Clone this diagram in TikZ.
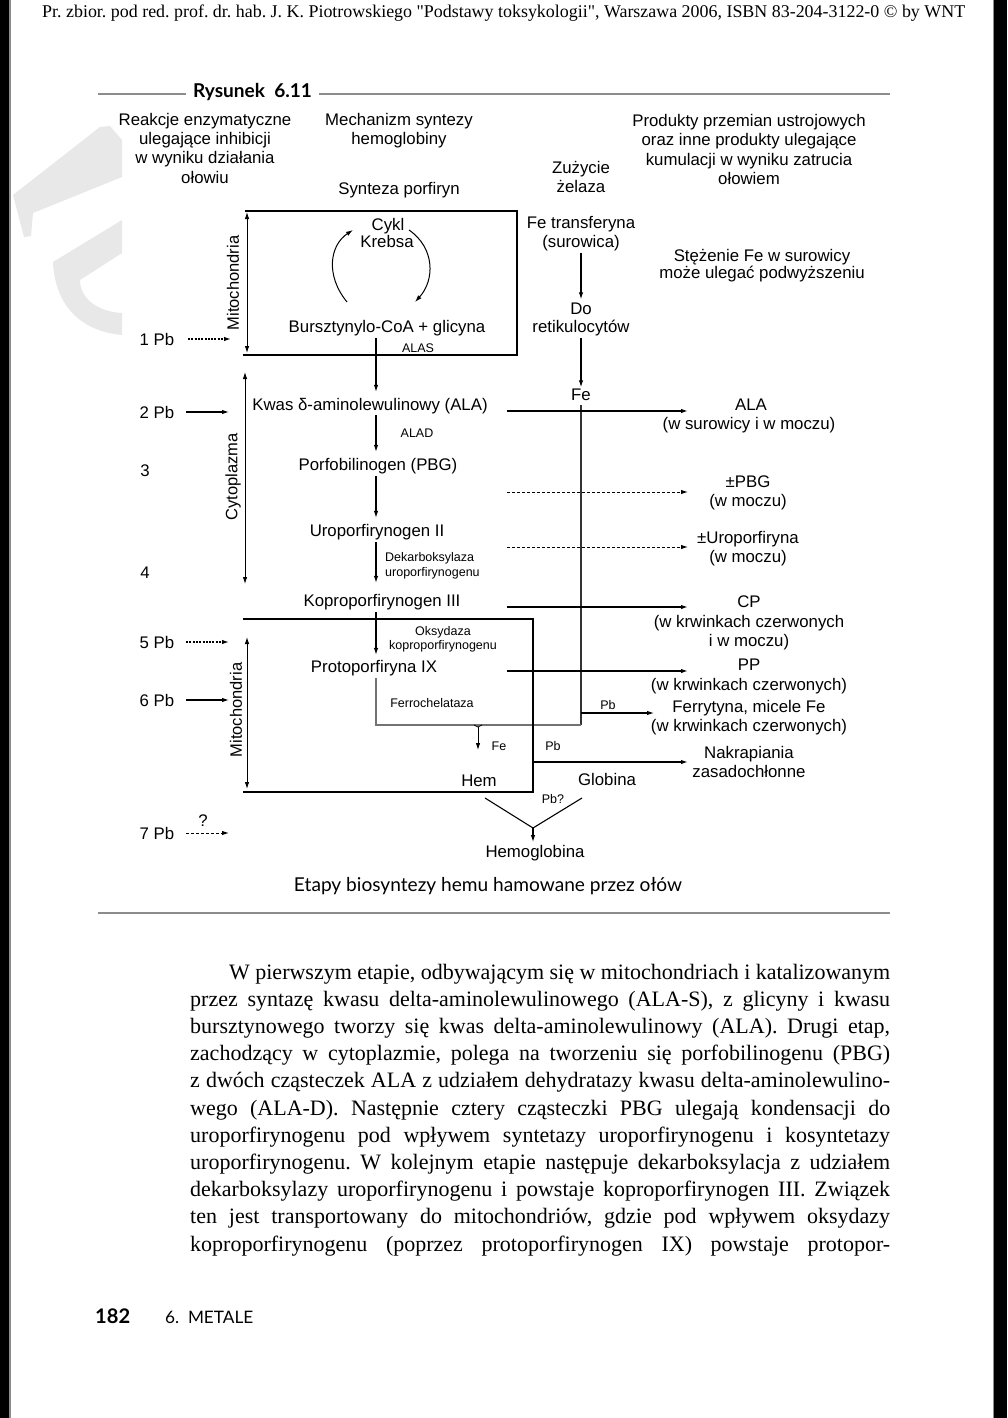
\documentclass[tikz,border=0pt]{standalone}
\usepackage{graphicx}
\usepackage{fontspec}
\setmainfont{Liberation Sans}
\newfontfamily\bodyfnt{Liberation Serif}
\newfontfamily\optfnt{Lato}
\usetikzlibrary{arrows.meta}
\frenchspacing
\begin{document}
\begin{tikzpicture}[x=1pt,y=-1pt,
  >={Latex[length=7pt,width=4.5pt]},
  m/.style={anchor=base,font=\fontsize{16.8}{19}\selectfont,inner sep=1.5pt,text height=12pt,text depth=3.5pt},
  sm/.style={anchor=base,font=\fontsize{12.5}{15}\selectfont,inner sep=1pt},
  rot/.style={anchor=center,rotate=90,font=\fontsize{16.5}{19}\selectfont,inner sep=1pt},
  arr/.style={->,line width=1.1pt},
  thickarr/.style={->,line width=2pt},
  dasharr/.style={->,line width=1pt,dash pattern=on 3pt off 2pt},
  dotarr/.style={->,line width=1.3pt,dash pattern=on 2pt off 1.3pt},
  dblarr/.style={<->,line width=0.9pt},
  boxl/.style={line width=1.4pt},
  grayl/.style={line width=1.1pt,black!55},
  rulel/.style={line width=2.6pt,black!45},
  body/.style={anchor=base west,inner sep=0pt,font=\bodyfnt\fontsize{22}{27}\selectfont}
]
\useasboundingbox (0,0) rectangle (1007,1418);
\fill[white] (0,0) rectangle (1007,1418);
% watermark
\fill[black!9] (13,195) -- (100,127) -- (110,126) -- (122,140) -- (122,177) -- (33,213) -- (31,236) -- (24,237) -- cycle;
\fill[black!9] (53,262) -- (122,220) -- (122,253) -- (80,280) .. controls (80,300) and (100,312) .. (122,313) -- (122,335) .. controls (80,331) and (55,305) .. (53,262) -- cycle;
% scan borders
\fill[black] (0,0) rectangle (9,1418);
\fill[black!45] (9,0) rectangle (10.5,1418);
\fill[black] (994,0) rectangle (1007,1418);
\fill[black!45] (992.5,0) rectangle (994,1418);

% header line
\node[anchor=base west,inner sep=0pt] (hdr) at (42,18) {\resizebox{923pt}{!}{\bodyfnt\fontsize{17}{20}\selectfont Pr. zbior. pod red. prof. dr. hab. J. K. Piotrowskiego "Podstawy toksykologii", Warszawa 2006, ISBN 83-204-3122-0 © by WNT}};

% figure title and rules
\draw[rulel] (98,94) -- (186,94);
\draw[rulel] (319,94) -- (890,94);
\node[anchor=base,inner sep=0pt] (rys) at (252.5,98) {\resizebox{119pt}{!}{\optfnt\bfseries\fontsize{19}{22}\selectfont Rysunek\ \ 6.11}};
\draw[rulel] (98,913) -- (890,913);

% column headers
\node[m] (r1a) at (205,126) {Reakcje enzymatyczne};
\node[m] (r1b) at (205,145) {ulegające inhibicji};
\node[m] (r1c) at (205,164) {w wyniku działania};
\node[m] (r1d) at (205,183) {ołowiu};
\node[m] (m1a) at (399,126) {Mechanizm syntezy};
\node[m] (m1b) at (399,145) {hemoglobiny};
\node[m] (z1a) at (581,173) {Zużycie};
\node[m] (z1b) at (581,192) {żelaza};
\node[m] (p1a) at (749,127) {Produkty przemian ustrojowych};
\node[m] (p1b) at (749,146) {oraz inne produkty ulegające};
\node[m] (p1c) at (749,165) {kumulacji w wyniku zatrucia};
\node[m] (p1d) at (749,184) {ołowiem};
\node[m] (syn) at (399,194) {Synteza porfiryn};

% first mitochondrial box
\draw[boxl] (245,211) -- (517,211) -- (517,355) -- (243,355);
\node[rot] (mito1) at (233,283) {Mitochondria};
\coordinate (mt1) at (247,212);
\coordinate (mb1) at (247,353);
\draw[dblarr] (mt1) -- (mb1);
\node[m] (cykl) at (388,230) {Cykl};
\node[m] (krebsa) at (387,247) {Krebsa};
\node[m] (bcoa) at (387,332) {Bursztynylo-CoA + glicyna};
\coordinate (kl1) at (347,302);
\coordinate (kl2) at (353,230);
\coordinate (kr1) at (409,230);
\coordinate (kr2) at (415,302);
\draw[arr,line width=1pt] (kl1) .. controls (325,275) and (330,245) .. (kl2);
\draw[arr,line width=1pt] (kr1) .. controls (435,248) and (435,280) .. (kr2);
\node[sm] (alas) at (418,352) {ALAS};

% iron column
\node[m] (fetr) at (581,228) {Fe transferyna};
\node[m] (sur) at (581,247) {(surowica)};
\node[m] (st1) at (762,261) {Stężenie Fe w surowicy};
\node[m] (st2) at (762,278) {może ulegać podwyższeniu};
\node[m] (do) at (581,314) {Do};
\node[m] (ret) at (581,332) {retikulocytów};
\node[m] (fe) at (581,400) {Fe};
\coordinate (colf) at (581,0);
\draw[arr] ([yshift=-1pt]sur.south -| colf) -- ([yshift=1pt]do.north -| colf);
\draw[arr] ([yshift=-1pt]ret.south -| colf) -- ([yshift=-1pt]fe.north -| colf);
\coordinate (fbot) at (581,725);
\draw[line width=1.1pt,black!80] (fe.south -| colf) -- (fbot);

% left labels
\node[m] (pb1) at (157,345) {1 Pb};
\node[m] (pb2) at (157,418) {2 Pb};
\node[m] (n3) at (145,476) {3};
\node[m] (n4) at (145,578) {4};
\node[m] (pb5) at (157,648) {5 Pb};
\node[m] (pb6) at (157,706) {6 Pb};
\node[m] (pb7) at (157,839) {7 Pb};
\node[m] (qm) at (203,826) {?};
\coordinate (a1s) at (188,339); \coordinate (a1e) at (231,339);
\coordinate (a2s) at (186,412); \coordinate (a2e) at (229,412);
\coordinate (a5s) at (186,642); \coordinate (a5e) at (229,642);
\coordinate (a6s) at (186,700); \coordinate (a6e) at (229,700);
\coordinate (a7s) at (186,833); \coordinate (a7e) at (229,833);
\draw[dotarr] (a1s) -- (a1e);
\draw[arr] (a2s) -- (a2e);
\draw[dotarr] (a5s) -- (a5e);
\draw[arr] (a6s) -- (a6e);
\draw[dasharr] (a7s) -- (a7e);

% cytoplasm
\node[rot] (cyto) at (233,477) {Cytoplazma};
\coordinate (ct) at (245,372);
\coordinate (cb) at (245,584);
\draw[dblarr] (ct) -- (cb);

% main chain
\coordinate (colx) at (376,0);
\node[m] (ala) at (370,410) {Kwas δ-aminolewulinowy (ALA)};
\node[sm] (alad) at (417,437) {ALAD};
\node[m] (pbg) at (378,470) {Porfobilinogen (PBG)};
\node[m] (uro) at (377,536) {Uroporfirynogen II};
\node[sm,anchor=base west] (dek1) at (384,561.5) {Dekarboksylaza};
\node[sm,anchor=base west] (dek2) at (384,576.5) {uroporfirynogenu};
\node[m] (kopro) at (382,606) {Koproporfirynogen III};
\node[sm] (oks1) at (443,635) {Oksydaza};
\node[sm] (oks2) at (443,649.5) {koproporfirynogenu};
\node[m] (proto) at (374,672) {Protoporfiryna IX};
\node[sm] (ferro) at (432,707) {Ferrochelataza};
\node[sm] (fes) at (499,750) {Fe};
\node[m] (hem) at (479,786) {Hem};
\node[m] (glob) at (607,785) {Globina};
\node[sm] (pbq) at (553,803) {Pb?};
\node[m] (hemo) at (535,857) {Hemoglobina};
\node[sm] (pbs1) at (608,709) {Pb};
\node[sm] (pbs2) at (553,750) {Pb};

\draw[arr] ([yshift=-1pt]bcoa.south -| colx) -- ([yshift=4.5pt]ala.north -| colx);
\draw[arr] (ala.south -| colx) -- ([yshift=4.5pt]pbg.north -| colx);
\draw[arr] ([yshift=-1pt]pbg.south -| colx) -- ([yshift=4.5pt]uro.north -| colx);
\draw[arr] ([yshift=-1pt]uro.south -| colx) -- ([yshift=9.5pt]kopro.north -| colx);
\draw[arr] ([yshift=-1pt]kopro.south -| colx) -- ([yshift=3.5pt]proto.north -| colx);
\coordinate (fc) at (376,725);
\draw[grayl] ([yshift=-1pt]proto.south -| colx) -- (fc) -- (fbot);

% second mitochondrial box
\draw[boxl] (243,619) -- (533,619) -- (533,792) -- (243,792);
\node[rot] (mito2) at (236,710) {Mitochondria};
\coordinate (mt2) at (247,637);
\coordinate (mb2) at (247,789);
\draw[dblarr] (mt2) -- (mb2);

% Fe into heme
\coordinate (hf1) at (478,727);
\coordinate (hf2) at (478,750);
\draw[line width=0.8pt] (474,725) -- (hf1) -- (482,725);
\draw[arr,line width=0.9pt] (hf1) -- (hf2);

% hemoglobin
\coordinate (hv) at (533,828);
\coordinate (hl) at (485,798);
\coordinate (hr) at (582,798);
\coordinate (hd) at (533,842);
\draw[line width=1.1pt] (hl) -- (hv) -- (hr);
\draw[arr] (hv) -- (hd);

% right arrows and products
\coordinate (ra) at (507,411); \coordinate (rae) at (688,411);
\coordinate (rb) at (507,492); \coordinate (rbe) at (688,492);
\coordinate (rc) at (507,547); \coordinate (rce) at (688,547);
\coordinate (rd) at (507,607); \coordinate (rde) at (688,607);
\coordinate (re) at (507,671); \coordinate (ree) at (688,671);
\coordinate (rf) at (581,713); \coordinate (rfe) at (654,713);
\coordinate (rg) at (533,762); \coordinate (rge) at (688,762);
\draw[thickarr] (ra) -- (rae);
\draw[dasharr] (rb) -- (rbe);
\draw[dasharr] (rc) -- (rce);
\draw[arr,line width=1.4pt] (rd) -- (rde);
\draw[arr,line width=1.4pt] (re) -- (ree);
\draw[arr] (rf) -- (rfe);
\draw[arr,line width=1.4pt] (rg) -- (rge);

\node[m] (alar) at (751,410) {ALA};
\node[m] (alar2) at (749,429) {(w surowicy i w moczu)};
\node[m] (pbgr) at (748,487) {±PBG};
\node[m] (pbgr2) at (748,506) {(w moczu)};
\node[m] (uror) at (748,543) {±Uroporfiryna};
\node[m] (uror2) at (748,562) {(w moczu)};
\node[m] (cp) at (749,607) {CP};
\node[m] (cp2) at (749,627) {(w krwinkach czerwonych};
\node[m] (cp3) at (749,646) {i w moczu)};
\node[m] (pp) at (749,670) {PP};
\node[m] (pp2) at (749,690) {(w krwinkach czerwonych)};
\node[m] (fer1) at (749,712) {Ferrytyna, micele Fe};
\node[m] (fer2) at (749,731) {(w krwinkach czerwonych)};
\node[m] (nak1) at (749,758) {Nakrapiania};
\node[m] (nak2) at (749,777) {zasadochłonne};

% caption
\node[anchor=base,inner sep=0pt] (cap) at (488,891) {\resizebox{388pt}{!}{\optfnt\fontsize{18}{22}\selectfont Etapy biosyntezy hemu hamowane przez ołów}};

% body text
\node[body] (l1) at (229,979) {\makebox[661pt][s]{W pierwszym etapie, odbywającym się w mitochondriach i katalizowanym}};
\node[body] (l2) at (190,1006.2) {\makebox[700pt][s]{przez syntazę kwasu delta-aminolewulinowego (ALA-S), z glicyny i kwasu}};
\node[body] (l3) at (190,1033.4) {\makebox[700pt][s]{bursztynowego tworzy się kwas delta-aminolewulinowy (ALA). Drugi etap,}};
\node[body] (l4) at (190,1060.6) {\makebox[700pt][s]{zachodzący w cytoplazmie, polega na tworzeniu się porfobilinogenu (PBG)}};
\node[body] (l5) at (190,1087.8) {\makebox[700pt][s]{z dwóch cząsteczek ALA z udziałem dehydratazy kwasu delta-aminolewulino-}};
\node[body] (l6) at (190,1115) {\makebox[700pt][s]{wego (ALA-D). Następnie cztery cząsteczki PBG ulegają kondensacji do}};
\node[body] (l7) at (190,1142.2) {\makebox[700pt][s]{uroporfirynogenu pod wpływem syntetazy uroporfirynogenu i kosyntetazy}};
\node[body] (l8) at (190,1169.4) {\makebox[700pt][s]{uroporfirynogenu. W kolejnym etapie następuje dekarboksylacja z udziałem}};
\node[body] (l9) at (190,1196.6) {\makebox[700pt][s]{dekarboksylazy uroporfirynogenu i powstaje koproporfirynogen III. Związek}};
\node[body] (l10) at (190,1223.8) {\makebox[700pt][s]{ten jest transportowany do mitochondriów, gdzie pod wpływem oksydazy}};
\node[body] (l11) at (190,1251) {\makebox[700pt][s]{koproporfirynogenu (poprzez protoporfirynogen IX) powstaje protopor-}};

% footer
\node[anchor=base west,inner sep=0pt] (pg) at (95,1323) {\resizebox{35pt}{!}{\optfnt\bfseries\fontsize{19}{22}\selectfont 182}};
\node[anchor=base west,inner sep=0pt] (sec) at (165,1323) {\resizebox{88pt}{!}{\optfnt\fontsize{17}{20}\selectfont 6.\ \ METALE}};
\end{tikzpicture}
\end{document}
